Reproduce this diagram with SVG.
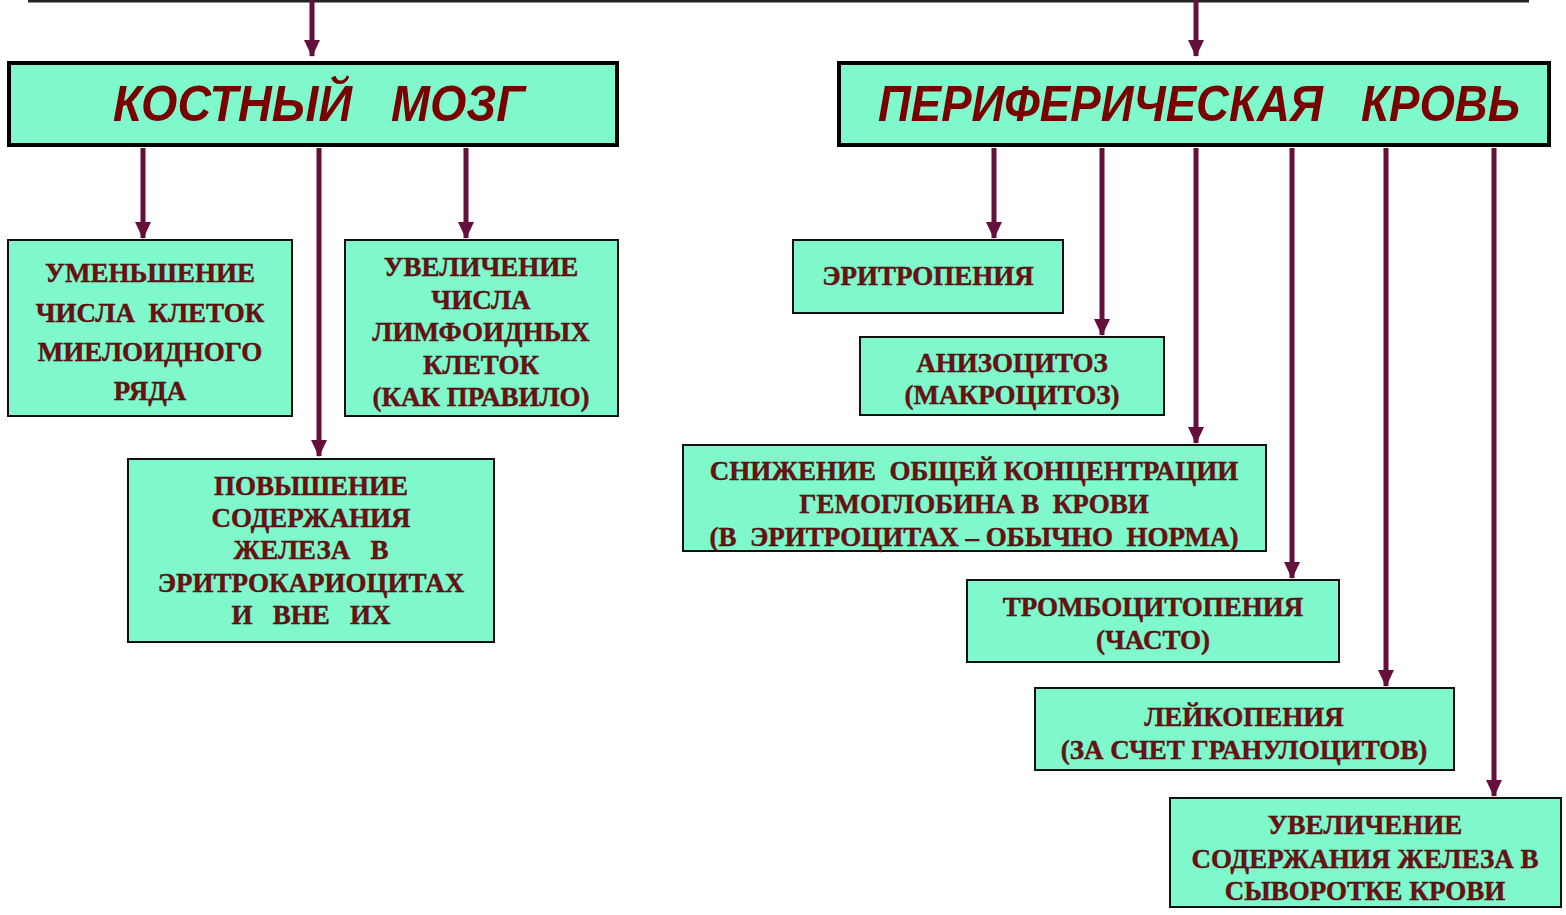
<svg xmlns="http://www.w3.org/2000/svg" width="1566" height="915" viewBox="0 0 1566 915">
<style>
.hdr{fill:#7ff8cc;stroke:#000;stroke-width:4}
.box{fill:#7ff8cc;stroke:#111;stroke-width:2}
.ht{font-family:"Liberation Sans Narrow","Liberation Sans",sans-serif;font-weight:bold;font-style:italic;font-size:44px;fill:#7a0000;text-anchor:middle;white-space:pre}
.t{font-family:"Liberation Serif",serif;font-weight:bold;font-size:27px;fill:#6e1010;text-anchor:middle;stroke:#3a0a0a;stroke-width:0.4;white-space:pre}
.c{stroke:#650f3c;stroke-width:5;fill:none;marker-end:url(#ah)}
</style>
<defs>
<marker id="ah" markerUnits="userSpaceOnUse" markerWidth="18" markerHeight="18" refX="16" refY="9" orient="auto" viewBox="0 0 18 18">
<path d="M0,1 L17,9 L0,17 Z" fill="#650f3c"/>
</marker>
</defs>
<rect width="1566" height="915" fill="#fff"/>
<line x1="28" y1="1" x2="1529" y2="1" stroke="#222" stroke-width="3"/>
<g id="connectors">
<line class="c" x1="312" y1="0" x2="312" y2="56"/>
<line class="c" x1="1196" y1="0" x2="1196" y2="56"/>
<line class="c" x1="143" y1="148" x2="143" y2="238"/>
<line class="c" x1="319" y1="148" x2="319" y2="456"/>
<line class="c" x1="466" y1="148" x2="466" y2="238"/>
<line class="c" x1="994" y1="148" x2="994" y2="238"/>
<line class="c" x1="1102" y1="148" x2="1102" y2="335"/>
<line class="c" x1="1196" y1="148" x2="1196" y2="443"/>
<line class="c" x1="1292" y1="148" x2="1292" y2="578"/>
<line class="c" x1="1386" y1="148" x2="1386" y2="686"/>
<line class="c" x1="1494" y1="148" x2="1494" y2="796"/>
</g>
<g id="bone-marrow">
<rect class="hdr" x="9" y="63" width="608" height="82"/>
<text class="ht" transform="translate(319,121) scale(1,1.15)" x="0" y="0" textLength="412" lengthAdjust="spacingAndGlyphs" xml:space="preserve">КОСТНЫЙ   МОЗГ</text>
</g>
<g id="peripheral-blood">
<rect class="hdr" x="839" y="63" width="710" height="82"/>
<text class="ht" transform="translate(1199,121) scale(1,1.15)" x="0" y="0" textLength="642" lengthAdjust="spacingAndGlyphs" xml:space="preserve">ПЕРИФЕРИЧЕСКАЯ   КРОВЬ</text>
</g>
<g id="n-myeloid">
<rect class="box" x="8" y="240" width="284" height="176"/>
<text class="t" x="150" y="282">УМЕНЬШЕНИЕ</text>
<text class="t" x="150" y="322" xml:space="preserve">ЧИСЛА  КЛЕТОК</text>
<text class="t" x="150" y="361">МИЕЛОИДНОГО</text>
<text class="t" x="150" y="400">РЯДА</text>
</g>
<g id="n-lymphoid">
<rect class="box" x="345" y="240" width="273" height="176"/>
<text class="t" x="481" y="276">УВЕЛИЧЕНИЕ</text>
<text class="t" x="481" y="309">ЧИСЛА</text>
<text class="t" x="481" y="341">ЛИМФОИДНЫХ</text>
<text class="t" x="481" y="374">КЛЕТОК</text>
<text class="t" x="481" y="406">(КАК ПРАВИЛО)</text>
</g>
<g id="n-iron-bm">
<rect class="box" x="128" y="459" width="366" height="183"/>
<text class="t" x="311" y="495">ПОВЫШЕНИЕ</text>
<text class="t" x="311" y="527">СОДЕРЖАНИЯ</text>
<text class="t" x="311" y="559" xml:space="preserve">ЖЕЛЕЗА   В</text>
<text class="t" x="311" y="592">ЭРИТРОКАРИОЦИТАХ</text>
<text class="t" x="311" y="624" xml:space="preserve">И   ВНЕ   ИХ</text>
</g>
<g id="n-erythropenia">
<rect class="box" x="793" y="240" width="270" height="73"/>
<text class="t" x="928" y="285">ЭРИТРОПЕНИЯ</text>
</g>
<g id="n-anisocytosis">
<rect class="box" x="860" y="337" width="304" height="78"/>
<text class="t" x="1012" y="372">АНИЗОЦИТОЗ</text>
<text class="t" x="1012" y="404">(МАКРОЦИТОЗ)</text>
</g>
<g id="n-hemoglobin">
<rect class="box" x="683" y="445" width="583" height="106"/>
<text class="t" x="974" y="480" xml:space="preserve">СНИЖЕНИЕ  ОБЩЕЙ КОНЦЕНТРАЦИИ</text>
<text class="t" x="974" y="513" xml:space="preserve">ГЕМОГЛОБИНА В  КРОВИ</text>
<text class="t" x="974" y="546" xml:space="preserve">(В  ЭРИТРОЦИТАХ – ОБЫЧНО  НОРМА)</text>
</g>
<g id="n-thrombocytopenia">
<rect class="box" x="967" y="580" width="372" height="82"/>
<text class="t" x="1153" y="616">ТРОМБОЦИТОПЕНИЯ</text>
<text class="t" x="1153" y="649">(ЧАСТО)</text>
</g>
<g id="n-leukopenia">
<rect class="box" x="1035" y="688" width="419" height="82"/>
<text class="t" x="1244" y="726">ЛЕЙКОПЕНИЯ</text>
<text class="t" x="1244" y="759">(ЗА СЧЕТ ГРАНУЛОЦИТОВ)</text>
</g>
<g id="n-iron-serum">
<rect class="box" x="1170" y="798" width="391" height="109"/>
<text class="t" x="1365" y="834">УВЕЛИЧЕНИЕ</text>
<text class="t" x="1365" y="868">СОДЕРЖАНИЯ ЖЕЛЕЗА В</text>
<text class="t" x="1365" y="900">СЫВОРОТКЕ КРОВИ</text>
</g>
</svg>
